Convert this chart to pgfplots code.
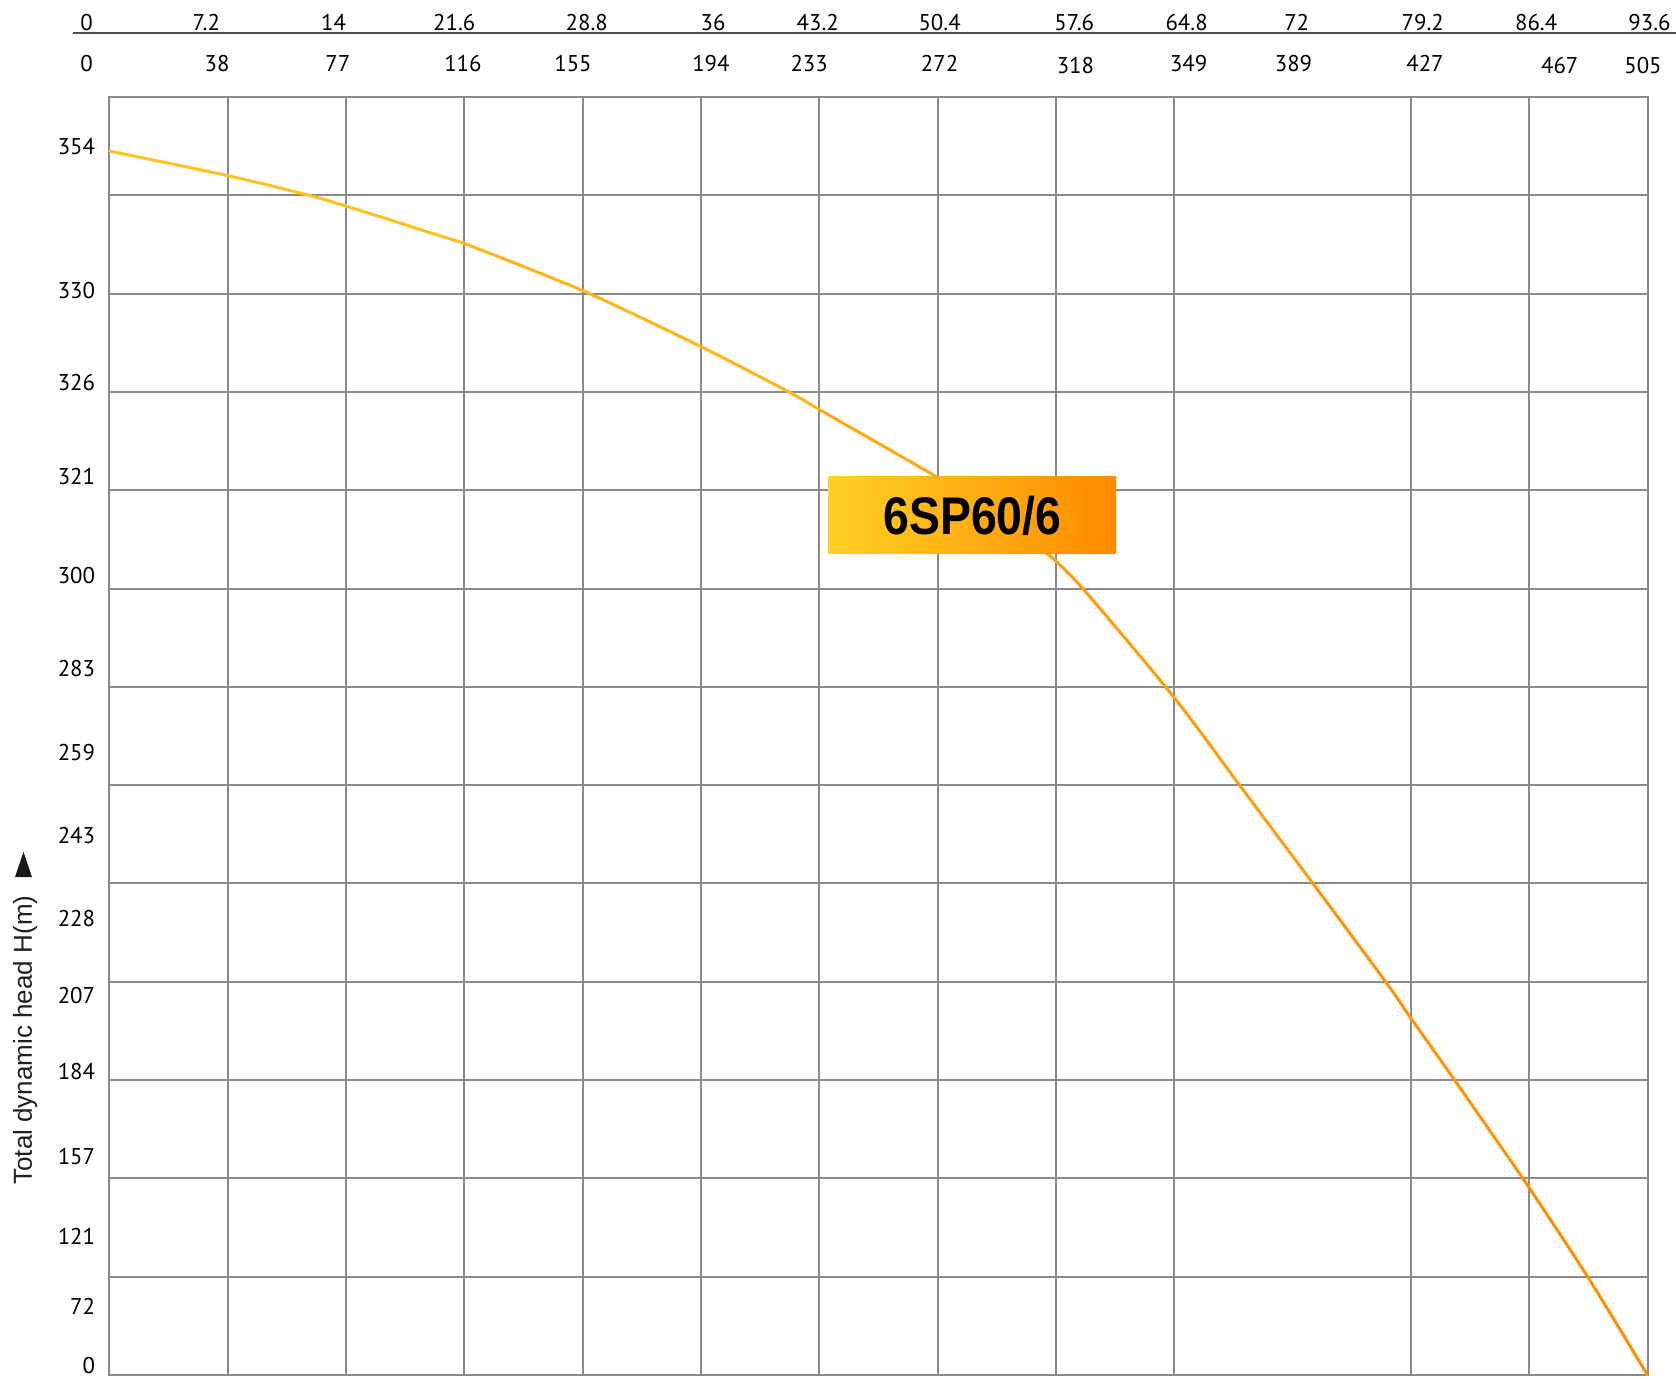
\documentclass[border=0pt]{standalone}
\usepackage{graphicx}
\usepackage{pgfplots}
\pgfplotsset{compat=1.18}
\usepackage{fontspec}
\setmainfont{PT Sans}
\newfontfamily\lib{Liberation Sans}
\definecolor{gridgray}{RGB}{138,138,138}
\definecolor{topline}{RGB}{80,80,80}
\definecolor{cstart}{RGB}{255,200,35}
\definecolor{cend}{RGB}{255,140,0}
\definecolor{boxl}{RGB}{255,210,38}
\definecolor{boxr}{RGB}{255,138,0}
\newcommand{\tl}{\fontsize{11.4}{13}\selectfont}
\begin{document}
\begin{tikzpicture}
\begin{axis}[
  at={(0,0)}, anchor=south west,
  scale only axis, width=769pt, height=639pt,
  xmin=0, xmax=93.6, ymin=0, ymax=13,
  axis line style={gridgray, line width=1pt},
  xtick={7.2,14.4,21.6,28.8,36,43.2,50.4,57.6,64.8,79.2,86.4},
  xticklabels={},
  xmajorgrids=true,
  ytick={0.10,0.70,1.41,2.22,3.09,3.86,4.64,5.49,6.33,7.19,8.13,9.14,10.10,11.03,12.50},
  yticklabels={0,72,121,157,184,207,228,243,259,283,300,321,326,330,354},
  ymajorgrids=false,
  minor ytick={1,2,3,4,5,6,7,8,9,10,11,12},
  yminorgrids=true,
  grid style={gridgray, line width=1pt},
  minor grid style={gridgray, line width=1pt},
  major tick length=0pt, minor tick length=0pt,
  tick style={draw=none},
  yticklabel style={font=\tl, anchor=east, inner sep=0pt, xshift=-7pt},
  clip=false,
]
\addplot[color=cend!10!cstart, line width=1.5pt, line cap=round, smooth] coordinates {
(0,12.45)(7.2,12.20)(11.90,12.01)(14.4,11.89)(21.6,11.51)};
\addplot[color=cend!33!cstart, line width=1.5pt, line cap=round, smooth] coordinates {
(21.6,11.51)(28.8,11.03)(36.0,10.46)(41.23,10.01)(43.2,9.82)};
\addplot[color=cend!52!cstart, line width=1.5pt, line cap=round, smooth] coordinates {
(43.2,9.82)(50.4,9.13)(54,8.76)(57.11,8.35)};
\addplot[color=cend!70!cstart, line width=1.5pt, line cap=round, smooth] coordinates {
(57.11,8.35)(59.18,8.01)(64.8,6.89)(68.73,6.01)(73.24,5.00)};
\addplot[color=cend!85!cstart, line width=1.5pt, line cap=round, smooth] coordinates {
(73.24,5.00)(77.62,4.01)(79.2,3.63)(81.82,3.01)(86.02,2.00)};
\addplot[color=cend!97!cstart, line width=1.5pt, line cap=round, smooth] coordinates {
(86.02,2.00)(89.92,1.01)(93.6,0)};
\end{axis}
\begin{scope}[x=0.5pt, y=-0.5pt, shift={(-54.75pt,687.5pt)}]
\draw[topline, line width=1pt] (73,33) -- (1676,33);
\foreach \xx/\lab in {86.6/0,206.3/7.2,333.5/14,454.3/21.6,586.8/28.8,713/36,817.8/43.2,939.6/50.4,1074.3/57.6,1186.6/64.8,1296.7/72,1422.8/79.2,1536.2/86.4,1649.5/93.6}
  \node[anchor=base, inner sep=0pt, font=\tl] at (\xx,31) {\lab};
\foreach \xx/\yy/\lab in {86.6/71.5/0,217/71.5/38,337.8/71.5/77,462.9/71.5/116,573/71.5/155,710.9/71.5/194,809.2/71.5/233,939.6/71.5/272,1075.4/73.5/318,1188.7/71.5/349,1293.5/71.5/389,1425/71.5/427,1559.7/73.5/467,1643/73.5/505}
  \node[anchor=base, inner sep=0pt, font=\tl] at (\xx,\yy) {\lab};
\shade[left color=boxl, right color=boxr] (828,477) rectangle (1116,554);
\node[inner sep=0pt, font=\lib\bfseries\fontsize{26.5}{30}\selectfont] at (972.5,516) {\scalebox{0.875}[1]{6SP60/6}};
\node[rotate=90, anchor=base west, inner sep=0pt, text=black!88, font=\lib\fontsize{13}{15}\selectfont] at (32,1185) {Total dynamic head H(m)};
\fill[black!90] (15,877) -- (32,877) -- (23.5,852) -- cycle;
\pgfresetboundingbox
\useasboundingbox (0,0) rectangle (1676,1378);
\end{scope}
\end{tikzpicture}
\end{document}
